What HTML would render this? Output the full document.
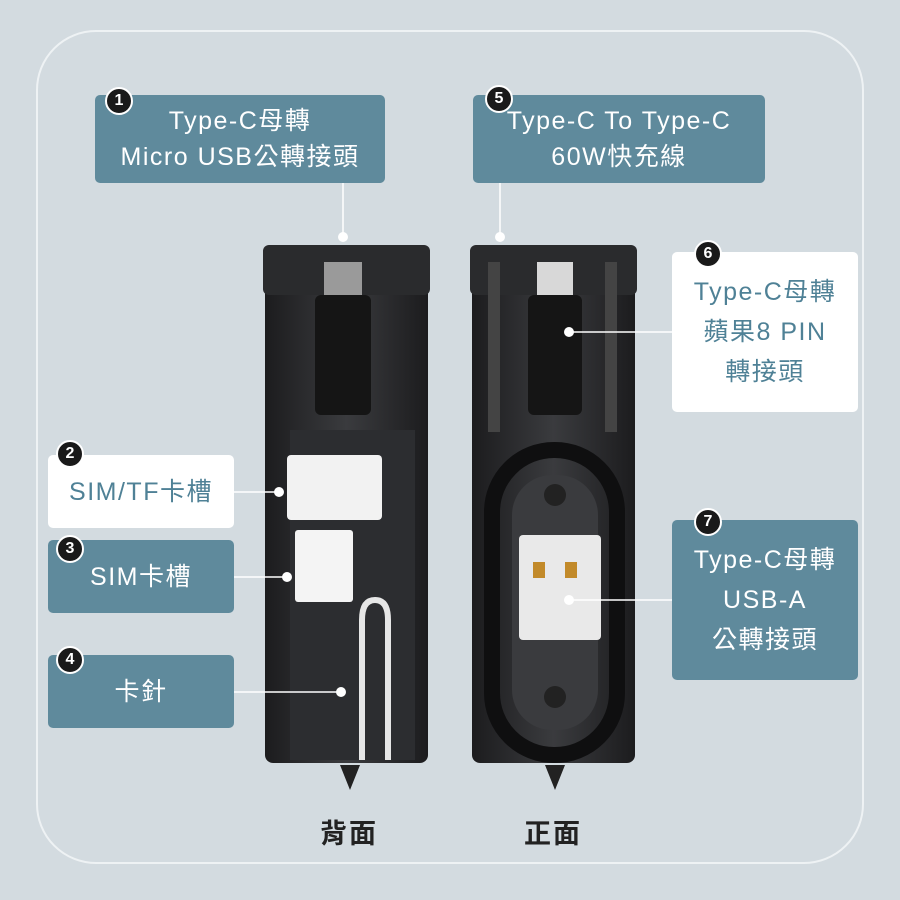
<!DOCTYPE html>
<html><head><meta charset="utf-8"><style>
body{margin:0;width:900px;height:900px;background:#d3dbe0;position:relative;overflow:hidden;font-family:"Liberation Sans","Noto Sans CJK TC",sans-serif}
.frame{position:absolute;left:36px;top:30px;width:828px;height:834px;border:2px solid #eef2f4;border-radius:60px;box-sizing:border-box}
.b{position:absolute;display:flex;align-items:center;justify-content:center;text-align:center;font-size:25px;line-height:36px;letter-spacing:1.5px;border-radius:5px}
.t{background:#5f8a9c;color:#fff}
.w{background:#fff;color:#4f8196}
.n{position:absolute;width:24px;height:24px;border-radius:50%;background:#1a1a1a;color:#fff;font-size:16px;font-weight:bold;display:flex;align-items:center;justify-content:center;border:2px solid #fff}
.cap{position:absolute;font-size:27px;font-weight:bold;color:#222;letter-spacing:2px}
</style></head><body>
<div class="frame"></div>
<svg width="900" height="900" style="position:absolute;left:0;top:0">
<defs><linearGradient id="g" x1="0" x2="1"><stop offset="0" stop-color="#1c1c1e"/><stop offset=".5" stop-color="#3a3b3e"/><stop offset="1" stop-color="#1c1c1e"/></linearGradient></defs>
<!-- left device -->
<rect x="265" y="245" width="163" height="518" rx="8" fill="url(#g)"/>
<rect x="263" y="245" width="167" height="50" rx="6" fill="#2a2b2d"/>
<rect x="324" y="262" width="38" height="40" fill="#9a9a9a"/>
<rect x="315" y="295" width="56" height="120" rx="6" fill="#151515"/>
<rect x="290" y="430" width="125" height="330" fill="#2c2d30"/>
<rect x="287" y="455" width="95" height="65" rx="4" fill="#f2f2f2"/>
<rect x="295" y="530" width="58" height="72" rx="3" fill="#f4f4f4"/>
<path d="M362 760 L362 620 Q362 600 375 600 Q388 600 388 620 L388 760" fill="none" stroke="#e6e6e6" stroke-width="6"/>
<path d="M340 765 L350 790 L360 765Z" fill="#222"/>
<!-- right device -->
<rect x="472" y="245" width="163" height="518" rx="8" fill="url(#g)"/>
<rect x="470" y="245" width="167" height="50" rx="6" fill="#2a2b2d"/>
<rect x="537" y="262" width="36" height="40" fill="#d8d8d8"/>
<rect x="528" y="295" width="54" height="120" rx="6" fill="#151515"/>
<rect x="488" y="262" width="12" height="170" fill="#444"/>
<rect x="605" y="262" width="12" height="170" fill="#444"/>
<rect x="492" y="450" width="125" height="305" rx="62" fill="none" stroke="#0f0f10" stroke-width="16"/>
<rect x="512" y="475" width="86" height="255" rx="40" fill="#3a3b3e"/>
<circle cx="555" cy="495" r="11" fill="#222"/><circle cx="555" cy="697" r="11" fill="#222"/>
<rect x="519" y="535" width="82" height="105" rx="4" fill="#e9e9e9"/>
<rect x="533" y="562" width="12" height="16" fill="#c28a2a"/><rect x="565" y="562" width="12" height="16" fill="#c28a2a"/>
<path d="M545 765 L555 790 L565 765Z" fill="#222"/>
<!-- connectors -->
<g stroke="#fff" stroke-width="1.5" fill="none">
<line x1="343" y1="183" x2="343" y2="235"/>
<line x1="500" y1="183" x2="500" y2="235"/>
<line x1="672" y1="332" x2="570" y2="332"/>
<line x1="234" y1="492" x2="278" y2="492"/>
<line x1="234" y1="577" x2="287" y2="577"/>
<line x1="234" y1="692" x2="340" y2="692"/>
<line x1="672" y1="600" x2="570" y2="600"/>
</g>
<g fill="#fff"><circle cx="343" cy="237" r="5"/><circle cx="500" cy="237" r="5"/><circle cx="569" cy="332" r="5"/><circle cx="279" cy="492" r="5"/><circle cx="287" cy="577" r="5"/><circle cx="341" cy="692" r="5"/><circle cx="569" cy="600" r="5"/></g>
</svg>
<div class="b t" style="left:95px;top:95px;width:290px;height:88px">Type-C母轉<br>Micro USB公轉接頭</div>
<div class="b t" style="left:473px;top:95px;width:292px;height:88px">Type-C To Type-C<br>60W快充線</div>
<div class="b w" style="left:672px;top:252px;width:186px;height:160px;line-height:40px">Type-C母轉<br>蘋果8 PIN<br>轉接頭</div>
<div class="b w" style="left:48px;top:455px;width:186px;height:73px">SIM/TF卡槽</div>
<div class="b t" style="left:48px;top:540px;width:186px;height:73px">SIM卡槽</div>
<div class="b t" style="left:48px;top:655px;width:186px;height:73px">卡針</div>
<div class="b t" style="left:672px;top:520px;width:186px;height:160px;line-height:40px">Type-C母轉<br>USB-A<br>公轉接頭</div>
<div class="n" style="left:105px;top:87px">1</div>
<div class="n" style="left:485px;top:85px">5</div>
<div class="n" style="left:694px;top:240px">6</div>
<div class="n" style="left:56px;top:440px">2</div>
<div class="n" style="left:56px;top:535px">3</div>
<div class="n" style="left:56px;top:646px">4</div>
<div class="n" style="left:694px;top:508px">7</div>
<div class="cap" style="left:320px;top:812px">背面</div>
<div class="cap" style="left:524px;top:812px">正面</div>
</body></html>
